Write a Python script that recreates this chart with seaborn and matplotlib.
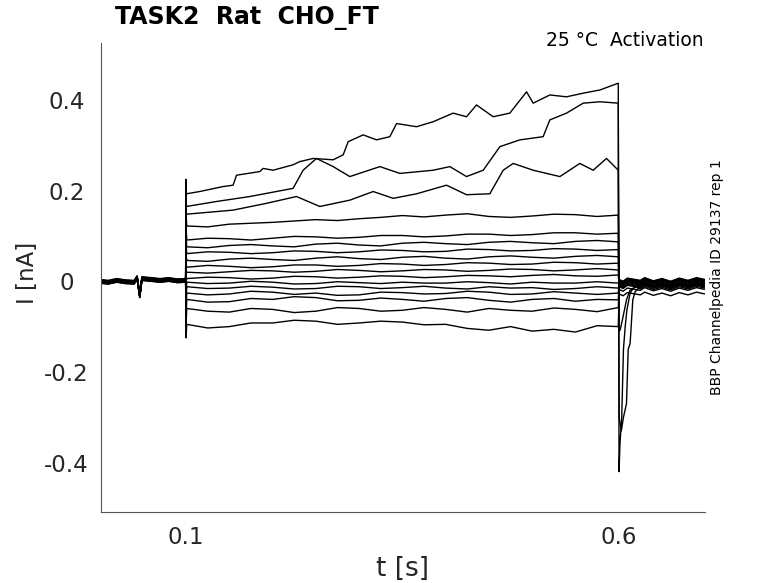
import matplotlib
matplotlib.use("Agg")
import matplotlib.pyplot as plt
import seaborn as sns
import pandas as pd

# holding period before the step (s, nA), shared by all sweeps
pre_t = [0.0, 0.01, 0.02, 0.03, 0.04, 0.0435, 0.0465, 0.049, 0.06, 0.07, 0.08, 0.09, 0.0995]
pre_i = [0.0, -0.002, 0.002, -0.001, -0.002, 0.008, -0.032, 0.006, 0.004, 0.002, 0.004, 0.001, 0.002]
hold_offset = [-0.004, -0.003, -0.002, -0.001, 0.0, 0.001, 0.002, 0.003, 0.004,
               -0.003, -0.001, 0.001, 0.003, -0.002, 0.0, 0.002, -0.004]

# capacitive spike at step onset, one value per sweep
spike_on = [-0.125, -0.10, -0.08, -0.06, -0.04, -0.025, 0.0, 0.02, 0.04,
            0.06, 0.08, 0.10, 0.12, 0.15, 0.18, 0.20, 0.225]

# flat sweeps during the step, most hyperpolarised first
step_t = [0.1008, 0.125, 0.15, 0.175, 0.2, 0.225, 0.25, 0.275, 0.3, 0.325, 0.35,
          0.375, 0.4, 0.425, 0.45, 0.475, 0.5, 0.525, 0.55, 0.575, 0.5995]
flat_sweeps = [
    [-0.095, -0.103, -0.100, -0.092, -0.092, -0.086, -0.088, -0.095, -0.092, -0.088, -0.090,
     -0.096, -0.095, -0.104, -0.108, -0.100, -0.110, -0.106, -0.112, -0.098, -0.100],
    [-0.060, -0.066, -0.068, -0.060, -0.062, -0.069, -0.066, -0.058, -0.060, -0.066, -0.064,
     -0.058, -0.062, -0.068, -0.060, -0.064, -0.066, -0.059, -0.062, -0.067, -0.058],
    [-0.040, -0.046, -0.045, -0.038, -0.040, -0.034, -0.036, -0.043, -0.042, -0.037, -0.040,
     -0.044, -0.038, -0.036, -0.042, -0.046, -0.040, -0.038, -0.044, -0.040, -0.041],
    [-0.026, -0.030, -0.028, -0.022, -0.024, -0.029, -0.026, -0.031, -0.030, -0.024, -0.025,
     -0.028, -0.027, -0.022, -0.024, -0.029, -0.028, -0.023, -0.026, -0.029, -0.026],
    [-0.012, -0.016, -0.015, -0.011, -0.013, -0.017, -0.016, -0.011, -0.012, -0.016, -0.014,
     -0.011, -0.015, -0.017, -0.012, -0.015, -0.014, -0.018, -0.016, -0.012, -0.015],
    [-0.002, -0.005, -0.004, 0.000, -0.002, -0.006, -0.005, -0.001, -0.003, -0.005, -0.002,
     -0.004, -0.004, -0.001, -0.003, -0.006, -0.002, -0.004, -0.004, -0.001, -0.004],
    [0.006, 0.009, 0.008, 0.005, 0.007, 0.011, 0.010, 0.007, 0.009, 0.012, 0.011,
     0.008, 0.010, 0.013, 0.012, 0.010, 0.013, 0.015, 0.012, 0.011, 0.014],
    [0.020, 0.018, 0.021, 0.024, 0.023, 0.020, 0.022, 0.026, 0.024, 0.021, 0.023,
     0.026, 0.025, 0.022, 0.024, 0.027, 0.026, 0.023, 0.025, 0.028, 0.025],
    [0.031, 0.035, 0.033, 0.030, 0.032, 0.036, 0.036, 0.033, 0.035, 0.039, 0.038,
     0.035, 0.037, 0.041, 0.040, 0.037, 0.038, 0.042, 0.041, 0.038, 0.040],
    [0.046, 0.044, 0.049, 0.051, 0.048, 0.046, 0.051, 0.054, 0.050, 0.048, 0.053,
     0.055, 0.051, 0.049, 0.054, 0.056, 0.053, 0.051, 0.055, 0.057, 0.054],
    [0.061, 0.065, 0.064, 0.061, 0.063, 0.067, 0.066, 0.063, 0.065, 0.069, 0.068,
     0.065, 0.066, 0.071, 0.070, 0.067, 0.068, 0.072, 0.071, 0.068, 0.070],
    [0.076, 0.074, 0.079, 0.081, 0.078, 0.076, 0.082, 0.084, 0.080, 0.078, 0.084,
     0.086, 0.083, 0.081, 0.086, 0.088, 0.085, 0.083, 0.088, 0.090, 0.087],
    [0.091, 0.095, 0.094, 0.091, 0.095, 0.099, 0.098, 0.095, 0.097, 0.101, 0.101,
     0.098, 0.100, 0.104, 0.104, 0.101, 0.103, 0.107, 0.107, 0.104, 0.106],
    [0.122, 0.120, 0.126, 0.128, 0.130, 0.133, 0.136, 0.134, 0.138, 0.141, 0.145,
     0.142, 0.146, 0.149, 0.143, 0.141, 0.144, 0.148, 0.147, 0.143, 0.146],
]

# three largest sweeps, read point by point
sweep_c_t = [0.1004, 0.1544, 0.1930, 0.2276, 0.2546, 0.2893, 0.3163, 0.3394, 0.3664, 0.4010,
             0.4241, 0.4511, 0.4665, 0.4781, 0.5012, 0.5320, 0.5551, 0.5705, 0.5859, 0.5995]
sweep_c_i = [0.148, 0.157, 0.172, 0.187, 0.165, 0.179, 0.198, 0.183, 0.193, 0.212,
             0.191, 0.193, 0.245, 0.260, 0.245, 0.231, 0.260, 0.245, 0.271, 0.245]
sweep_b_t = [0.1004, 0.1351, 0.1737, 0.2237, 0.2353, 0.2507, 0.2700, 0.2893, 0.3240, 0.3471, 0.3856,
             0.4049, 0.4241, 0.4434, 0.4627, 0.4858, 0.5127, 0.5204, 0.5397, 0.5590, 0.5782, 0.5995]
sweep_b_i = [0.165, 0.176, 0.187, 0.205, 0.245, 0.271, 0.253, 0.231, 0.253, 0.238, 0.245,
             0.253, 0.231, 0.245, 0.297, 0.312, 0.319, 0.356, 0.371, 0.393, 0.396, 0.393]
sweep_a_t = [0.1004, 0.1158, 0.1428, 0.1544, 0.1583, 0.1852, 0.1891, 0.2006, 0.2237, 0.2314, 0.2469,
             0.2700, 0.2816, 0.2874, 0.3047, 0.3201, 0.3355, 0.3433, 0.3664, 0.3856, 0.4087, 0.4241,
             0.4357, 0.4549, 0.4742, 0.4935, 0.5012, 0.5204, 0.5397, 0.5590, 0.5782, 0.5995]
sweep_a_i = [0.193, 0.198, 0.209, 0.212, 0.234, 0.242, 0.249, 0.245, 0.257, 0.264, 0.271,
             0.268, 0.279, 0.308, 0.323, 0.312, 0.319, 0.348, 0.341, 0.352, 0.371, 0.363,
             0.389, 0.363, 0.371, 0.418, 0.393, 0.411, 0.407, 0.415, 0.422, 0.437]

# tail currents after the step for the three largest sweeps
tail_c_t = [0.6005, 0.6017, 0.6035, 0.607, 0.609, 0.613, 0.62]
tail_c_i = [-0.11, -0.107, -0.092, -0.06, -0.041, -0.02, -0.012]
tail_b_t = [0.6005, 0.603, 0.6055, 0.609, 0.611, 0.6132, 0.6163, 0.619, 0.623]
tail_b_i = [-0.30, -0.33, -0.30, -0.27, -0.15, -0.137, -0.041, -0.023, -0.015]
tail_a_t = [0.6004, 0.6015, 0.6035, 0.6055, 0.6075, 0.6095, 0.6132, 0.617, 0.62]
tail_a_i = [-0.42, -0.357, -0.30, -0.15, -0.10, -0.063, -0.026, -0.015, -0.012]

# period after the step, shared wiggle plus a level per sweep
post_t = [0.6005, 0.605, 0.61, 0.625, 0.63, 0.64, 0.65, 0.66, 0.67, 0.68, 0.69, 0.6994]
post_i = [0.0, -0.004, 0.003, -0.002, 0.004, -0.003, 0.002, -0.004, 0.003, -0.002, 0.004, 0.0]
post_level = [-0.028, -0.018, -0.012, -0.010, -0.008, -0.006, -0.004, -0.002, 0.0,
              0.002, 0.003, 0.004, 0.002, 0.0, -0.008, -0.012, -0.015]

y_ticks = [-0.4, -0.2, 0, 0.2, 0.4]
y_labels = ["-0.4", "-0.2", "0", "0.2", "0.4"]
x_ticks = [0.1, 0.6]
x_labels = ["0.1", "0.6"]

# assemble long-form table, one unit per sweep
step_parts = [(step_t, row) for row in flat_sweeps]
step_parts += [(sweep_c_t, sweep_c_i), (sweep_b_t, sweep_b_i), (sweep_a_t, sweep_a_i)]
tails = {14: (tail_c_t, tail_c_i), 15: (tail_b_t, tail_b_i), 16: (tail_a_t, tail_a_i)}

rows = []
for k, (st, si) in enumerate(step_parts):
    ts = [t for t in pre_t]
    vs = [v + hold_offset[k] for v in pre_i]
    ts.append(0.1)
    vs.append(spike_on[k])
    ts += list(st)
    vs += list(si)
    if k in tails:
        tt, ti = tails[k]
        ts += tt
        vs += ti
        after = [(t, v + post_level[k]) for t, v in zip(post_t, post_i) if t > tt[-1]]
    else:
        after = [(t, v + post_level[k]) for t, v in zip(post_t, post_i)]
    ts += [a[0] for a in after]
    vs += [a[1] for a in after]
    for t, v in zip(ts, vs):
        rows.append({"sweep": k, "t": t, "I": v})
df = pd.DataFrame(rows)

sns.set_style("white")
plt.rcParams["font.family"] = ["DejaVu Sans"]
plt.rcParams["axes.unicode_minus"] = False

fig = plt.figure(figsize=(7.78, 5.83), dpi=100)
ax = fig.add_axes([0.1298, 0.1218, 0.7760, 0.8039])

sns.lineplot(data=df, x="t", y="I", units="sweep", estimator=None, sort=False,
             color="black", lw=1.0, ax=ax)

ax.set_xlim(0.0017, 0.6994)
ax.set_ylim(-0.509, 0.525)
ax.set_xticks(x_ticks)
ax.set_xticklabels(x_labels)
ax.set_yticks(y_ticks)
ax.set_yticklabels(y_labels, ha="center")
ax.tick_params(direction="in", length=4.5, width=0.8, color="#555555",
               labelsize=16.5, labelcolor="#262626")
ax.tick_params(axis="y", pad=25)
ax.tick_params(axis="x", pad=10)
for side in ["top", "right"]:
    ax.spines[side].set_visible(False)
for side in ["left", "bottom"]:
    ax.spines[side].set_color("#555555")
    ax.spines[side].set_linewidth(0.8)

ax.set_xlabel("t [s]", fontsize=19, color="#262626", labelpad=5)
ax.set_ylabel("")
fig.text(0.0353, 0.532, "I [nA]", fontsize=16.5, color="#262626",
         rotation=90, ha="center", va="center")

fig.text(0.148, 0.969, "TASK2  Rat  CHO_FT", fontsize=17, fontweight="bold",
         ha="left", va="center", color="black")
fig.text(0.905, 0.931, "25 °C  Activation", fontsize=13.5, ha="right", va="center",
         color="black")
fig.text(0.9216, 0.525, "BBP Channelpedia ID 29137 rep 1", fontsize=10,
         rotation=90, ha="center", va="center", color="black")

fig.savefig("out.png", dpi=100, facecolor="white")
